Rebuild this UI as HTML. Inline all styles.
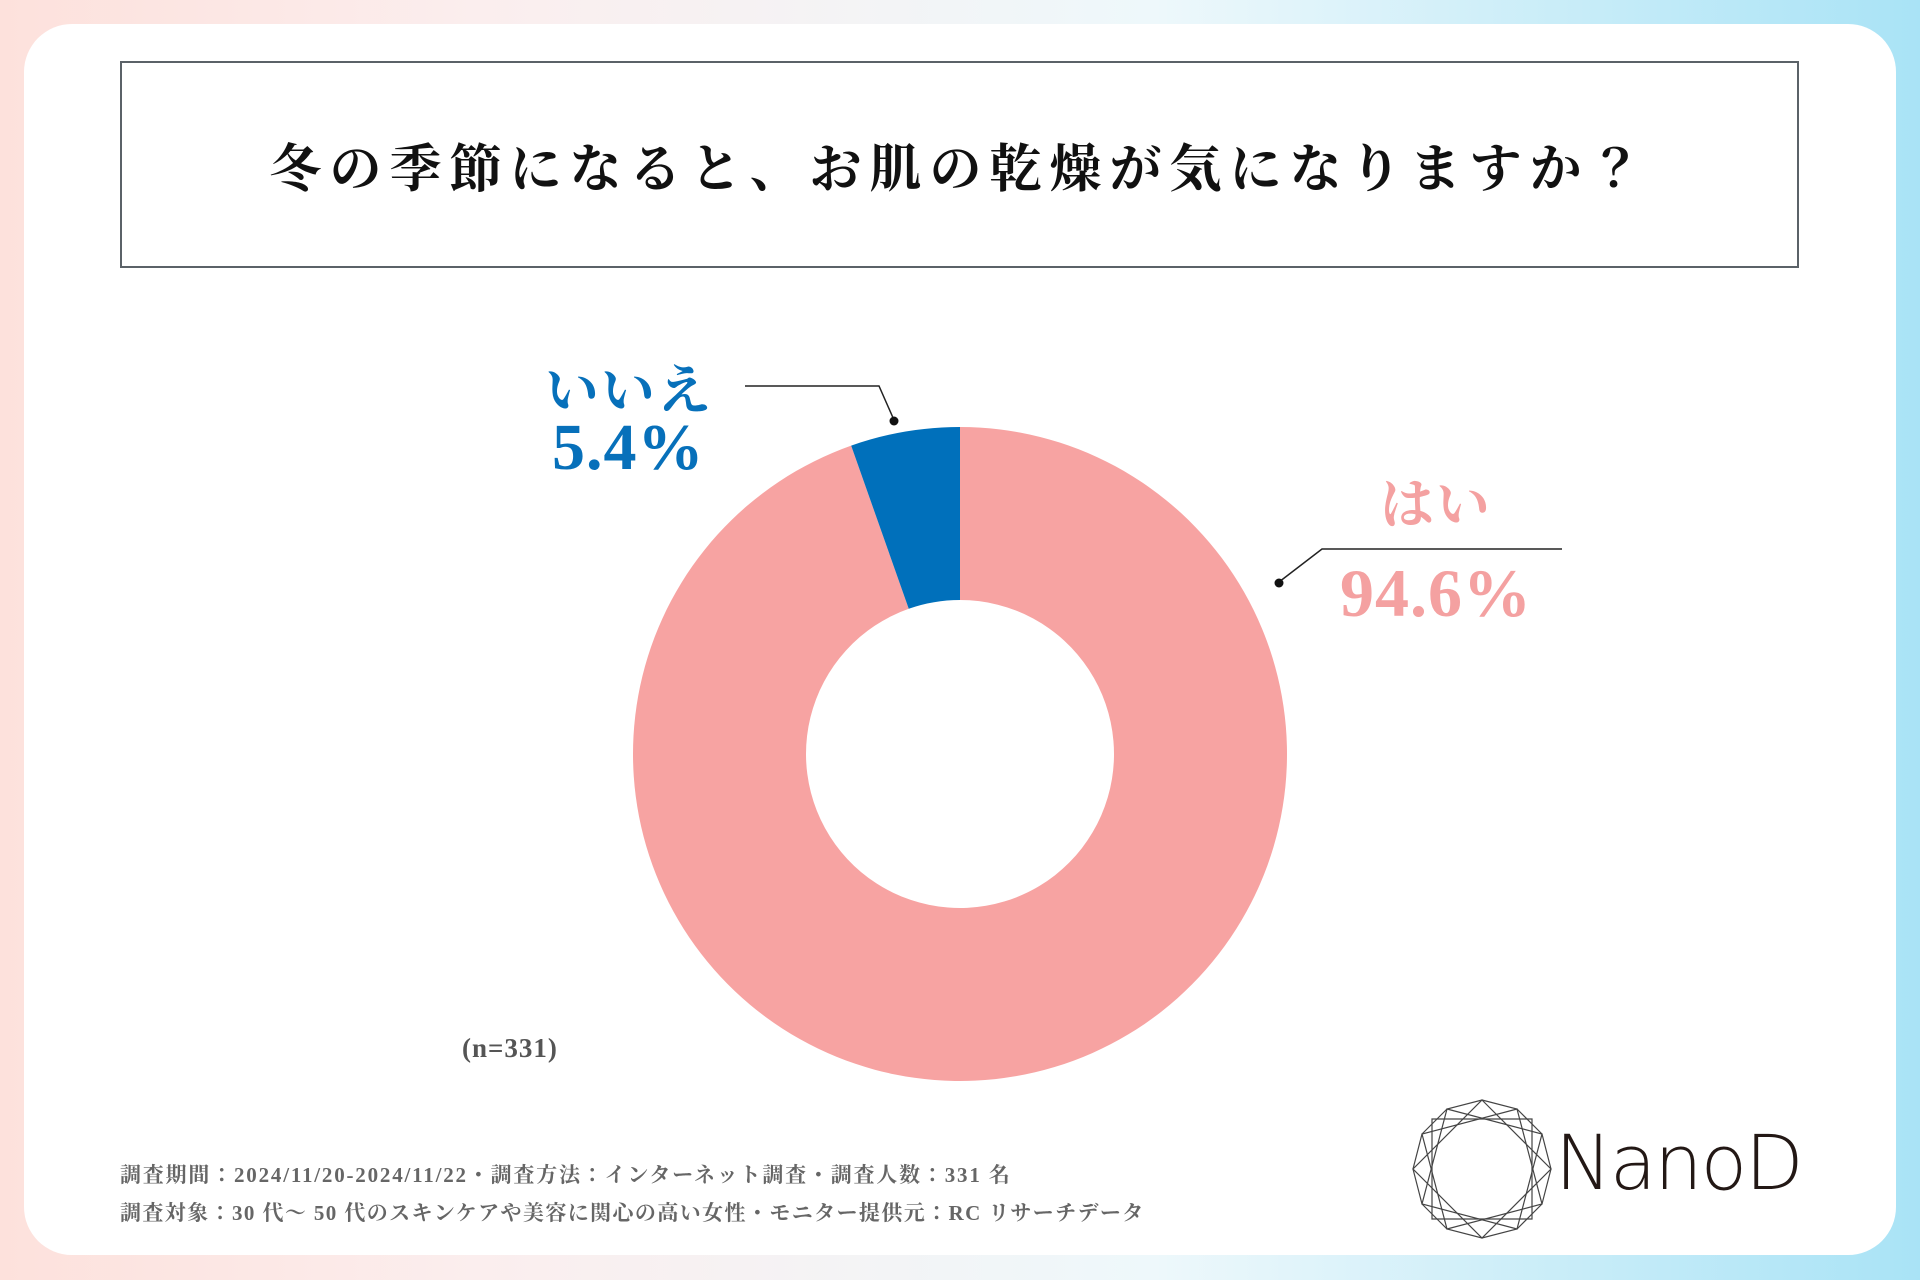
<!DOCTYPE html>
<html><head><meta charset="utf-8"><style>
html,body{margin:0;padding:0;}
body{width:1920px;height:1280px;position:relative;overflow:hidden;background:linear-gradient(90deg,#fde1dc 0%,#fbeeee 25%,#eef8fb 60%,#a9e3f6 100%);font-family:"Liberation Serif","Noto Serif CJK JP",serif;}
#card{position:absolute;left:24px;top:24px;width:1872px;height:1231px;background:#fff;border-radius:48px;}
#title-box{position:absolute;left:120px;top:61px;width:1675px;height:203px;border:2px solid #5b6268;box-sizing:content-box;display:flex;align-items:center;justify-content:center;font-size:52px;font-weight:bold;color:#111;letter-spacing:8px;}
.t{position:absolute;white-space:nowrap;font-weight:bold;}
</style></head><body>
<div id="card"></div>
<div id="title-box">冬の季節になると、お肌の乾燥が気になりますか？</div>
<svg id="chart" width="1920" height="1280" style="position:absolute;left:0;top:0"></svg>
<div class="t" style="left:545px;top:348px;font-size:54px;color:#0770ba;letter-spacing:2px">いいえ</div>
<div class="t" style="left:552px;top:410px;font-size:66px;color:#0770ba;letter-spacing:1px">5.4%</div>
<div class="t" style="left:1380px;top:462px;font-size:54px;color:#f4a1a1;letter-spacing:2px">はい</div>
<div class="t" style="left:1340px;top:554px;font-size:68px;color:#f4a1a1;letter-spacing:1px">94.6%</div>
<div class="t" style="left:462px;top:1033px;font-size:27px;color:#555;letter-spacing:1px">(n=331)</div>
<div class="t" style="left:120px;top:1159px;font-size:21px;color:#666;letter-spacing:1.8px">調査期間：2024/11/20-2024/11/22・調査方法：インターネット調査・調査人数：331 名</div>
<div class="t" style="left:120px;top:1197px;font-size:21px;color:#666;letter-spacing:1.4px">調査対象：30 代〜 50 代のスキンケアや美容に関心の高い女性・モニター提供元：RC リサーチデータ</div>
<svg width="150" height="150" style="position:absolute;left:1407px;top:1094px">
<g fill="none" stroke="#444" stroke-width="1.2">
<polygon points="75,6 110,15 135,40 144,75 135,110 110,135 75,144 40,135 15,110 6,75 15,40 40,15"/>
<polygon points="25,25 125,25 125,125 25,125"/>
<polygon points="75,6 144,75 75,144 6,75"/>
<polygon points="40,15 135,40 110,135 15,110"/>
<polygon points="110,15 135,110 40,135 15,40"/>
</g></svg>
<div style="position:absolute;left:1555px;top:1118px;font-family:'DejaVu Sans','Liberation Sans',sans-serif;font-size:76px;color:#231815;font-weight:200;letter-spacing:-2px">NanoD</div>
<script>
const categories=["はい","いいえ"];
const values=[94.6,5.4];
const colors=["#f7a3a2","#0070bb"];
const svg=document.getElementById('chart');
const NS="http://www.w3.org/2000/svg";
const cx=960,cy=754,R=327,r=154;
const total=values.reduce((a,b)=>a+b,0);
function pt(rad,a){return [cx+rad*Math.sin(a),cy-rad*Math.cos(a)];}
let acc=0;
values.forEach((v,i)=>{
const a0=acc/total*2*Math.PI;acc+=v;const a1=acc/total*2*Math.PI;
const lg=(a1-a0)>Math.PI?1:0;
const p1=pt(R,a0),p2=pt(R,a1),p3=pt(r,a1),p4=pt(r,a0);
const p=document.createElementNS(NS,'path');
p.setAttribute('d',`M${p1}A${R},${R} 0 ${lg} 1 ${p2}L${p3}A${r},${r} 0 ${lg} 0 ${p4}Z`);
p.setAttribute('fill',colors[i]);


svg.appendChild(p);
});
function line(pts,name){
const l=document.createElementNS(NS,'polyline');
l.setAttribute('points',pts);l.setAttribute('fill','none');l.setAttribute('stroke','#222');l.setAttribute('stroke-width','1.5');


svg.appendChild(l);}
function dot(x,y,name){const c=document.createElementNS(NS,'circle');c.setAttribute('cx',x);c.setAttribute('cy',y);c.setAttribute('r',4.5);c.setAttribute('fill','#111');


svg.appendChild(c);}
line("745,386 879,386 894,420","leader-line-no");dot(894,421,'leader-dot-no');
line("1279,582 1322,549 1562,549","leader-line-yes");dot(1279,583,'leader-dot-yes');
</script>
</body></html>
